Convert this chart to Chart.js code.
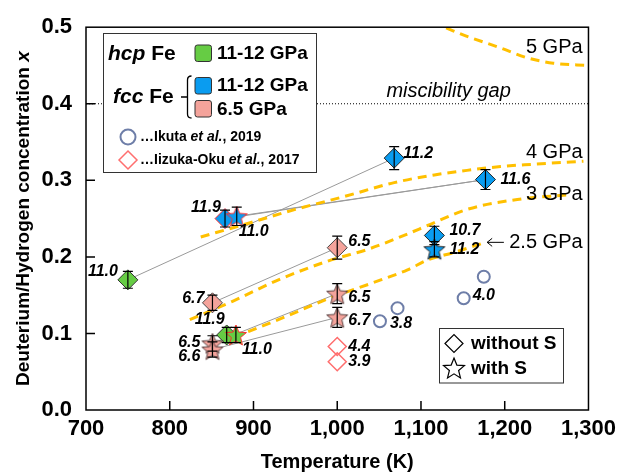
<!DOCTYPE html>
<html>
<head>
<meta charset="utf-8">
<script src="https://cdn.jsdelivr.net/npm/chart.js@4.4.1/dist/chart.umd.min.js"></script>
<style>
html, body { margin: 0; padding: 0; background: #fff; }
</style>
</head>
<body>
<canvas id="myChart" width="622" height="475"></canvas>
<script>
// ---- values (temperature K, concentration x, pressure GPa) ----
var hcpNoS_T = [750, 868];
var hcpNoS_X = [0.170, 0.098];
var hcpNoS_Err = [0.011, 0.010];
var hcpNoS_P = ['11.0', '11.9'];

var hcpS_T = [879];
var hcpS_X = [0.098];
var hcpS_Err = [0.010];
var hcpS_P = ['11.0'];

var fccHiNoS_T = [866, 1068, 1177, 1116];
var fccHiNoS_X = [0.250, 0.329, 0.301, 0.228];
var fccHiNoS_Err = [0.011, 0.015, 0.013, 0.012];
var fccHiNoS_P = ['11.9', '11.2', '11.6', '10.7'];

var fccHiS_T = [880, 1116];
var fccHiS_X = [0.253, 0.210];
var fccHiS_Err = [0.012, 0.010];
var fccHiS_P = ['11.0', '11.2'];

var fccLoNoS_T = [851, 1000];
var fccLoNoS_X = [0.140, 0.212];
var fccLoNoS_Err = [0.010, 0.015];
var fccLoNoS_P = ['6.7', '6.5'];

var fccLoS_T = [851, 851, 1000, 1000];
var fccLoS_X = [0.087, 0.079, 0.152, 0.121];
var fccLoS_Err = [0.010, 0.010, 0.013, 0.013];
var fccLoS_P = ['6.5', '6.6', '6.5', '6.7'];

var ikuta_T = [1051, 1072, 1151, 1175];
var ikuta_X = [0.116, 0.133, 0.146, 0.174];
var ikuta_P = ['3.8', '', '4.0', ''];

var iizuka_T = [1000, 1000];
var iizuka_X = [0.083, 0.063];
var iizuka_P = ['4.4', '3.9'];

// iso-pressure curves
var p5_T = [1130, 1155, 1195, 1227, 1258, 1300];
var p5_X = [0.499, 0.488, 0.473, 0.460, 0.453, 0.450];
var p4_T = [837, 891, 950, 1009, 1068, 1116, 1155, 1195, 1234, 1294];
var p4_X = [0.226, 0.243, 0.262, 0.279, 0.297, 0.307, 0.313, 0.318, 0.321, 0.325];
var p3_T = [824, 875, 934, 993, 1037, 1084, 1108, 1155, 1215, 1274];
var p3_X = [0.118, 0.142, 0.172, 0.196, 0.210, 0.230, 0.241, 0.262, 0.275, 0.281];
var p25_T = [877, 934, 993, 1037, 1052, 1084, 1108, 1140, 1177];
var p25_X = [0.095, 0.120, 0.147, 0.164, 0.170, 0.183, 0.196, 0.206, 0.219];

// miscibility gap
var gap_T = [700, 1300];
var gap_X = [0.4, 0.4];

var xTickLabels = ['700', '800', '900', '1,000', '1,100', '1,200', '1,300'];
var yTickLabels = ['0.0', '0.1', '0.2', '0.3', '0.4', '0.5'];

var GREEN = '#66CC44';
var BLUE = '#0A9CF0';
var PINK = '#F4A39B';
var ORANGE = '#FFC000';
var FONT = '"Liberation Sans", Arial, sans-serif';

Chart.defaults.font.family = FONT;
Chart.defaults.color = '#000';

function pts(T, X) {
    return T.map(function (t, i) { return {x: t, y: X[i]}; });
}

function starPath(g, cx, cy, R) {
    g.beginPath();
    for (var i = 0; i < 10; i++) {
        var r = i % 2 ? R * 0.44 : R;
        var a = -Math.PI / 2 + i * Math.PI / 5;
        g.lineTo(cx + r * Math.cos(a), cy + r * Math.sin(a));
    }
    g.closePath();
}

function makeStar(fill, edge) {
    var c = document.createElement('canvas');
    c.width = 26; c.height = 26;
    var g = c.getContext('2d');
    starPath(g, 13, 14, 11);
    g.fillStyle = fill;
    g.fill();
    g.lineWidth = 1;
    g.strokeStyle = edge;
    g.stroke();
    return c;
}

function tie(T1, X1, i, T2, X2, j) {
    return {
        data: [{x: T1[i], y: X1[i]}, {x: T2[j], y: X2[j]}],
        showLine: true, pointRadius: 0, borderColor: '#9a9a9a', borderWidth: 1, order: 5
    };
}

function curve(T, X) {
    return {
        data: pts(T, X), showLine: true, pointRadius: 0, borderColor: ORANGE,
        borderWidth: 3, borderDash: [9, 6], cubicInterpolationMode: 'monotone', order: 4
    };
}

var datasets = [
    {data: pts(gap_T, gap_X), showLine: true, pointRadius: 0, borderColor: '#000', borderWidth: 1, borderDash: [1, 2], order: 6},
    curve(p5_T, p5_X),
    curve(p4_T, p4_X),
    curve(p3_T, p3_X),
    curve(p25_T, p25_X),
    tie(hcpNoS_T, hcpNoS_X, 0, fccHiNoS_T, fccHiNoS_X, 1),
    tie(fccHiNoS_T, fccHiNoS_X, 0, fccHiNoS_T, fccHiNoS_X, 2),
    tie(fccHiS_T, fccHiS_X, 0, fccHiNoS_T, fccHiNoS_X, 2),
    tie(fccLoNoS_T, fccLoNoS_X, 0, fccLoNoS_T, fccLoNoS_X, 1),
    tie(fccLoS_T, fccLoS_X, 0, fccLoS_T, fccLoS_X, 2),
    tie(fccLoS_T, fccLoS_X, 1, fccLoS_T, fccLoS_X, 3),
    {
        data: pts(ikuta_T, ikuta_X), pointStyle: 'circle', pointRadius: 6,
        borderColor: '#6E7EA8', borderWidth: 2, backgroundColor: 'rgba(0,0,0,0)', order: 3,
        pLabels: ikuta_P, pOffsets: [[10, 2, 'left'], [0, 0, 'left'], [9, -3, 'left'], [0, 0, 'left']]
    },
    {
        data: pts(iizuka_T, iizuka_X), pointStyle: 'rectRot', pointRadius: 9,
        borderColor: '#FF6F6F', borderWidth: 1.5, backgroundColor: 'rgba(0,0,0,0)', order: 3,
        pLabels: iizuka_P, pOffsets: [[11, 0, 'left'], [11, 0, 'left']]
    },
    {
        data: pts(fccLoNoS_T, fccLoNoS_X), pointStyle: 'rectRot', pointRadius: 10,
        backgroundColor: PINK, borderColor: '#444', borderWidth: 1, order: 2,
        errY: fccLoNoS_Err, pLabels: fccLoNoS_P, pOffsets: [[-8, -4, 'right'], [11, -6, 'left']]
    },
    {
        data: pts(fccLoS_T, fccLoS_X), pointStyle: makeStar(PINK, '#5a4040'), pointRadius: 10, order: 1,
        errY: fccLoS_Err, pLabels: fccLoS_P,
        pOffsets: [[-12, -1, 'right'], [-12, 7, 'right'], [11, 4, 'left'], [11, 3, 'left']]
    },
    {
        data: pts(hcpNoS_T, hcpNoS_X), pointStyle: 'rectRot', pointRadius: 10,
        backgroundColor: GREEN, borderColor: '#333', borderWidth: 1, order: 2,
        errY: hcpNoS_Err, pLabels: hcpNoS_P, pOffsets: [[-10, -8, 'right'], [-2, -15, 'right']]
    },
    {
        data: pts(hcpS_T, hcpS_X), pointStyle: makeStar(GREEN, '#FF2A2A'), pointRadius: 10, order: 1,
        errY: hcpS_Err, pLabels: hcpS_P, pOffsets: [[6, 15, 'left']]
    },
    {
        data: pts(fccHiNoS_T, fccHiNoS_X), pointStyle: 'rectRot', pointRadius: 10,
        backgroundColor: BLUE, borderColor: ['#FF2A2A', '#222', '#222', '#222'], borderWidth: 1, order: 2,
        errY: fccHiNoS_Err, pLabels: fccHiNoS_P,
        pOffsets: [[-4, -11, 'right'], [9, -5, 'left'], [15, 0, 'left'], [15, -5, 'left']]
    },
    {
        data: pts(fccHiS_T, fccHiS_X), pointStyle: [makeStar(BLUE, '#FF2A2A'), makeStar(BLUE, '#222')],
        pointRadius: 10, order: 1,
        errY: fccHiS_Err, pLabels: fccHiS_P, pOffsets: [[2, 15, 'left'], [15, 0, 'left']]
    }
];

// text placed on the plot, anchored in data coordinates
var notes = [
    {text: '5 GPa', T: 1293, x: 0.473},
    {text: '4 GPa', T: 1293, x: 0.336},
    {text: '3 GPa', T: 1293, x: 0.281},
    {text: '2.5 GPa', T: 1293, x: 0.219}
];

var decor = {
    id: 'decor',
    afterDatasetsDraw: function (chart) {
        var g = chart.ctx, xs = chart.scales.x, ys = chart.scales.y;
        g.save();
        chart.data.datasets.forEach(function (ds, di) {
            var meta = chart.getDatasetMeta(di);
            if (ds.errY) {
                g.strokeStyle = '#000';
                g.lineWidth = 1.2;
                meta.data.forEach(function (p, i) {
                    var y = ds.data[i].y, e = ds.errY[i];
                    var top = ys.getPixelForValue(y + e), bot = ys.getPixelForValue(y - e);
                    g.beginPath();
                    g.moveTo(p.x, top); g.lineTo(p.x, bot);
                    g.moveTo(p.x - 5, top); g.lineTo(p.x + 5, top);
                    g.moveTo(p.x - 5, bot); g.lineTo(p.x + 5, bot);
                    g.stroke();
                });
            }
            if (ds.pLabels) {
                g.font = 'italic bold 16px ' + FONT;
                g.fillStyle = '#000';
                g.textBaseline = 'middle';
                meta.data.forEach(function (p, i) {
                    var o = ds.pOffsets[i];
                    g.textAlign = o[2];
                    g.fillText(ds.pLabels[i], p.x + o[0], p.y + o[1]);
                });
            }
        });

        // pressure notes
        g.font = '20px ' + FONT;
        g.textAlign = 'right';
        g.textBaseline = 'middle';
        notes.forEach(function (n) {
            g.fillText(n.text, xs.getPixelForValue(n.T), ys.getPixelForValue(n.x));
        });
        // arrow for 2.5 GPa
        var ay = ys.getPixelForValue(0.219), ax0 = xs.getPixelForValue(1179), ax1 = xs.getPixelForValue(1199);
        g.strokeStyle = '#000';
        g.lineWidth = 1;
        g.beginPath();
        g.moveTo(ax1, ay); g.lineTo(ax0, ay);
        g.moveTo(ax0 + 5, ay - 4); g.lineTo(ax0, ay); g.lineTo(ax0 + 5, ay + 4);
        g.stroke();

        g.font = 'italic 20px ' + FONT;
        g.textAlign = 'center';
        g.fillText('miscibility gap', xs.getPixelForValue(1133), ys.getPixelForValue(0.416));
        g.restore();
    },
    afterDraw: function (chart) {
        var g = chart.ctx, a = chart.chartArea, xs = chart.scales.x, ys = chart.scales.y;
        g.save();

        // frame and inward ticks
        g.strokeStyle = '#000';
        g.lineWidth = 1.5;
        g.strokeRect(a.left, a.top, a.right - a.left, a.bottom - a.top);
        g.beginPath();
        [800, 900, 1000, 1100, 1200].forEach(function (t) {
            var px = xs.getPixelForValue(t);
            g.moveTo(px, a.bottom); g.lineTo(px, a.bottom - 9);
        });
        [0.1, 0.2, 0.3, 0.4].forEach(function (v) {
            var py = ys.getPixelForValue(v);
            g.moveTo(a.left, py); g.lineTo(a.left + 9, py);
        });
        g.stroke();

        // y axis title with italic x
        g.translate(24, (a.top + a.bottom) / 2);
        g.rotate(-Math.PI / 2);
        g.textBaseline = 'middle';
        g.textAlign = 'left';
        var t1 = 'Deuterium/Hydrogen concentration ';
        g.font = 'bold 19px ' + FONT;
        var w1 = g.measureText(t1).width;
        g.font = 'italic bold 19px ' + FONT;
        var w2 = g.measureText('x').width;
        var sx = -(w1 + w2) / 2;
        g.font = 'bold 19px ' + FONT;
        g.fillText(t1, sx, 0);
        g.font = 'italic bold 19px ' + FONT;
        g.fillText('x', sx + w1, 0);
        g.setTransform(1, 0, 0, 1, 0, 0);

        // main legend
        g.fillStyle = '#fff';
        g.fillRect(103.5, 33.5, 213, 139);
        g.strokeStyle = '#333';
        g.lineWidth = 1;
        g.strokeRect(103.5, 33.5, 213, 139);

        function mixed(parts, x, y) {
            parts.forEach(function (p) {
                g.font = p[1] + FONT;
                g.fillText(p[0], x, y);
                x += g.measureText(p[0]).width;
            });
        }
        function swatch(x, y, col) {
            g.beginPath();
            g.roundRect(x, y, 16.5, 16.5, 2.5);
            g.fillStyle = col;
            g.fill();
            g.strokeStyle = '#333';
            g.lineWidth = 1;
            g.stroke();
            g.fillStyle = '#000';
        }
        g.fillStyle = '#000';
        g.textAlign = 'left';
        g.textBaseline = 'middle';
        mixed([['hcp', 'italic bold 21px '], [' Fe', 'bold 21px ']], 108, 54);
        swatch(195, 45, GREEN);
        g.font = 'bold 19px ' + FONT;
        g.fillText('11-12 GPa', 217, 54);
        mixed([['fcc', 'italic bold 21px '], [' Fe', 'bold 21px ']], 113, 97);
        g.strokeStyle = '#000';
        g.lineWidth = 1.3;
        g.beginPath();
        g.moveTo(181, 97); g.lineTo(187.5, 97);
        g.moveTo(191.5, 76); g.quadraticCurveTo(187.5, 76, 187.5, 80);
        g.lineTo(187.5, 114); g.quadraticCurveTo(187.5, 118, 191.5, 118);
        g.stroke();
        swatch(195, 77.5, BLUE);
        g.font = 'bold 19px ' + FONT;
        g.fillText('11-12 GPa', 217, 86);
        swatch(195, 100.5, PINK);
        g.font = 'bold 19px ' + FONT;
        g.fillText('6.5 GPa', 217, 110);

        g.strokeStyle = '#6E7EA8';
        g.lineWidth = 2;
        g.beginPath();
        g.arc(128, 137, 7.5, 0, Math.PI * 2);
        g.stroke();
        mixed([['\u2026Ikuta ', 'bold 14px '], ['et al.', 'italic bold 14px '], [', 2019', 'bold 14px ']], 140, 137);
        g.strokeStyle = '#FF6F6F';
        g.lineWidth = 1.5;
        g.beginPath();
        g.moveTo(119, 160); g.lineTo(128, 151); g.lineTo(137, 160); g.lineTo(128, 169); g.closePath();
        g.stroke();
        mixed([['\u2026Iizuka-Oku ', 'bold 14px '], ['et al.', 'italic bold 14px '], [', 2017', 'bold 14px ']], 140, 160);

        // symbol legend
        g.fillStyle = '#fff';
        g.fillRect(439.5, 328.5, 124, 54.5);
        g.strokeStyle = '#333';
        g.lineWidth = 1;
        g.strokeRect(439.5, 328.5, 124, 54.5);
        g.strokeStyle = '#000';
        g.lineWidth = 1.2;
        g.beginPath();
        g.moveTo(445, 343.5); g.lineTo(454, 334.5); g.lineTo(463, 343.5); g.lineTo(454, 352.5); g.closePath();
        g.stroke();
        starPath(g, 454, 369, 11);
        g.stroke();
        g.fillStyle = '#000';
        g.font = 'bold 19px ' + FONT;
        g.fillText('without S', 471, 344);
        g.fillText('with S', 471, 369);
        g.restore();
    }
};

var ctx = document.getElementById('myChart').getContext('2d');
var myChart = new Chart(ctx, {
    type: 'scatter',
    data: {datasets: datasets},
    options: {
        responsive: false,
        animation: false,
        layout: {padding: {top: 22, right: 30, left: 0, bottom: 0}},
        plugins: {legend: {display: false}, tooltip: {enabled: false}},
        scales: {
            x: {
                type: 'linear', min: 700, max: 1300,
                afterFit: function (s) { s.height = 65; },
                grid: {display: false, drawTicks: false},
                border: {display: false},
                ticks: {
                    stepSize: 100, autoSkip: false, maxRotation: 0, padding: 6,
                    font: {size: 22, weight: 'bold'}, color: '#000',
                    callback: function (v, i) { return xTickLabels[i]; }
                },
                title: {display: true, text: 'Temperature (K)', color: '#000',
                    font: {size: 20, weight: 'bold'}, padding: {top: 0, bottom: 1}}
            },
            y: {
                type: 'linear', min: 0, max: 0.5,
                afterFit: function (s) { s.width = 86; },
                grid: {display: false, drawTicks: false},
                border: {display: false},
                ticks: {
                    stepSize: 0.1, padding: 14,
                    font: {size: 22, weight: 'bold'}, color: '#000',
                    callback: function (v, i) { return yTickLabels[i]; }
                }
            }
        }
    },
    plugins: [decor]
});
</script>
</body>
</html>
